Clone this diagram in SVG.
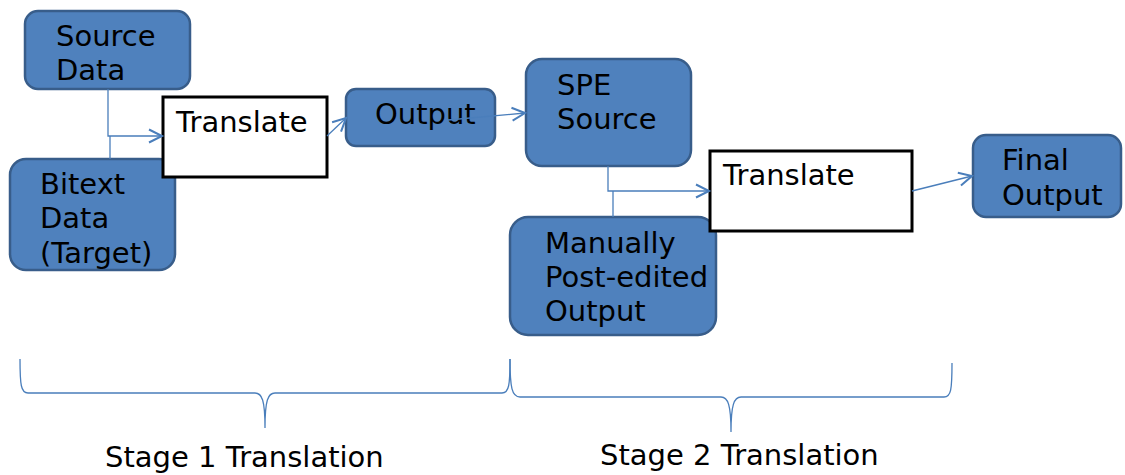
<svg xmlns="http://www.w3.org/2000/svg" width="1125" height="475" viewBox="0 0 1125 475">
<style>
.node{fill:#4f81bd;stroke:#385d8a;stroke-width:2.5}
.box{fill:#ffffff;stroke:#000000;stroke-width:3}
.t{font-family:"DejaVu Sans",sans-serif;font-size:29px;fill:#000000}
.c{fill:none;stroke:#4a7ebb;stroke-width:1.3}
</style>
<defs>
<marker id="arr" markerUnits="userSpaceOnUse" markerWidth="18" markerHeight="18" refX="15" refY="8" orient="auto">
<path d="M2,1.5 L15,8 L2,14.5" fill="none" stroke="#4a7ebb" stroke-width="2"/>
</marker>
</defs>
<g id="source-data">
<rect class="node" x="25" y="11" width="165" height="78" rx="13"/>
<text class="t" x="56" y="46">Source</text>
<text class="t" x="56" y="80">Data</text>
</g>
<g id="bitext-data">
<rect class="node" x="10" y="159" width="165" height="111" rx="16"/>
<text class="t" x="40" y="194">Bitext</text>
<text class="t" x="40" y="228">Data</text>
<text class="t" x="40" y="263">(Target)</text>
</g>
<g id="translate-1">
<rect class="box" x="163" y="97" width="164" height="80"/>
<text class="t" x="176" y="132">Translate</text>
</g>
<g id="output">
<rect class="node" x="346" y="89" width="149" height="57" rx="10"/>
<text class="t" x="375" y="124">Output</text>
</g>
<g id="spe-source">
<rect class="node" x="526" y="59" width="165" height="107" rx="16"/>
<text class="t" x="557" y="95">SPE</text>
<text class="t" x="557" y="129">Source</text>
</g>
<g id="manually-post-edited">
<rect class="node" x="510" y="217" width="206" height="118" rx="18"/>
<text class="t" x="545" y="253">Manually</text>
<text class="t" x="545" y="287">Post-edited</text>
<text class="t" x="545" y="321">Output</text>
</g>
<g id="translate-2">
<rect class="box" x="710" y="151" width="202" height="80"/>
<text class="t" x="723" y="185">Translate</text>
</g>
<g id="final-output">
<rect class="node" x="973" y="135" width="148" height="82" rx="13"/>
<text class="t" x="1002" y="170">Final</text>
<text class="t" x="1002" y="205">Output</text>
</g>
<g id="connectors">
<path class="c" d="M108,89 L108,136 L162,136" marker-end="url(#arr)"/>
<path class="c" d="M110,159 L110,136"/>
<path class="c" d="M327,136 L346,118" marker-end="url(#arr)"/>
<path class="c" d="M448,120 L525,113" marker-end="url(#arr)"/>
<path class="c" d="M608,166 L608,191 L709,191" marker-end="url(#arr)"/>
<path class="c" d="M613,217 L613,191"/>
<path class="c" d="M912,191 L972,176" marker-end="url(#arr)"/>
</g>
<g id="braces">
<path class="c" d="M20,359 C20,385 21,393 28,393 L255,393 C262,393 265,400 265,428 C265,400 268,393 275,393 L502,393 C509,393 510,385 510,359"/>
<path class="c" d="M510,359 C510,388 512,397 520,397 L721,397 C728,397 731,405 731,432 C731,405 734,397 741,397 L944,397 C951,397 952,390 952,363"/>
</g>
<g id="labels">
<text class="t" x="105" y="467">Stage 1 Translation</text>
<text class="t" x="600" y="465">Stage 2 Translation</text>
</g>
</svg>
